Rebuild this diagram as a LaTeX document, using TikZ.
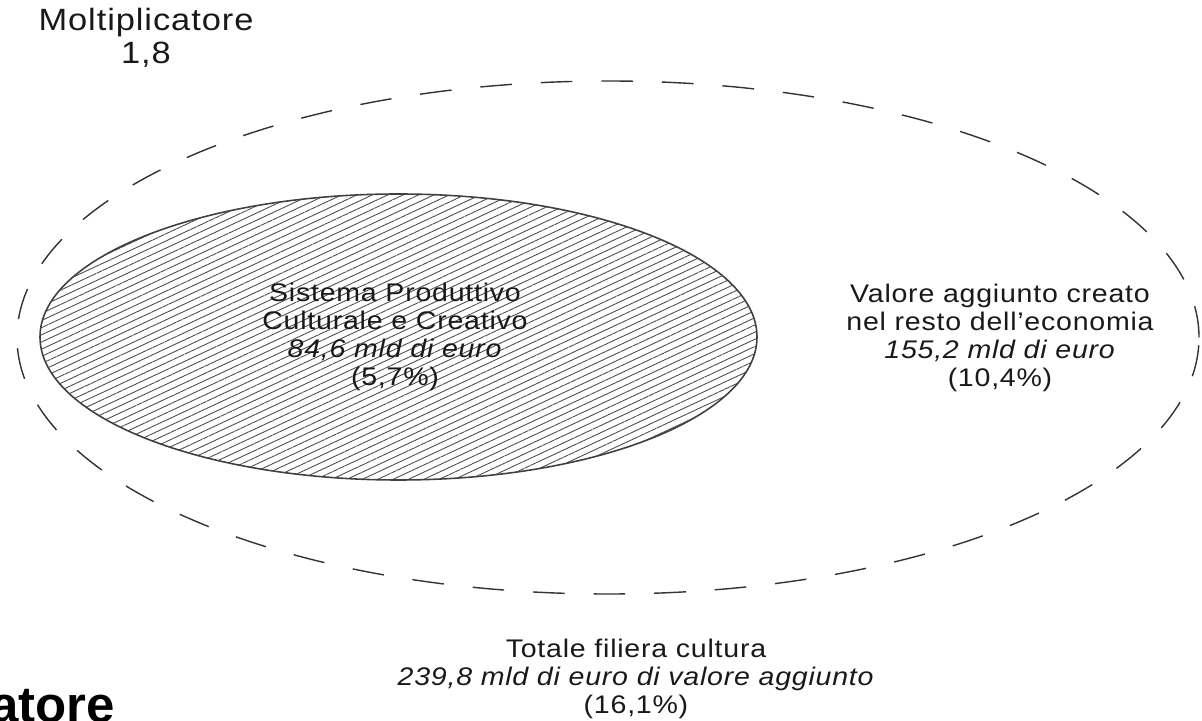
\documentclass[tikz,border=0pt]{standalone}
\usepackage{fontspec}
\setsansfont{Liberation Sans}[FakeStretch=1.12, LetterSpace=3]
\newfontfamily\cutfont{Liberation Sans}
\usetikzlibrary{patterns.meta}

\begin{document}
\begin{tikzpicture}[font=\sffamily]
	\def\Wd{24.04}
	\def\Ht{14.4}
	\def\Rx{11.82}
	\def\Ry{5.13}
	\def\rx{7.17}
	\def\ry{2.86}
	\tikzset{label/.style={align=center, text=black!90, font=\sffamily\fontsize{14.5}{15.9}\selectfont}}

	\useasboundingbox		(0,0) rectangle (\Wd,\Ht);
	\fill[pattern={Lines[angle=25,distance=0.13cm,line width=0.5pt]}, pattern color=black!70]	(7.97,7.66) ellipse [x radius=\rx, y radius=\ry];
	\draw[black!75, line width=0.9pt]		(7.97,7.66) ellipse [x radius=\rx, y radius=\ry];
	\draw[black!80, line width=0.8pt, dash pattern=on 18pt off 16.5pt]	(12.16,7.65) ellipse [x radius=\Rx, y radius=\Ry];

	\node[label] (spcc)	at (7.9,7.66)	{Sistema Produttivo\\Culturale e Creativo\\\textit{84,6 mld di euro}\\(5,7\%)};
	\node[label] (resto)	at (20.0,7.64)	{Valore aggiunto creato\\nel resto dell’economia\\\textit{155,2 mld di euro}\\(10,4\%)};
	\node[label] (totale)	at (12.72,0.82)	{Totale filiera cultura\\\textit{239,8 mld di euro di valore aggiunto}\\(16,1\%)};
	\node[label, font=\sffamily\fontsize{17.5}{19}\selectfont] (moltipl)	at (2.92,13.64)	{Moltiplicatore\\1,8};
	\node[anchor=base east, inner sep=0pt, font=\cutfont\bfseries\fontsize{29}{32}\selectfont] (tagliato)	at (2.3,-0.04)	{atore};
\end{tikzpicture}
\end{document}
